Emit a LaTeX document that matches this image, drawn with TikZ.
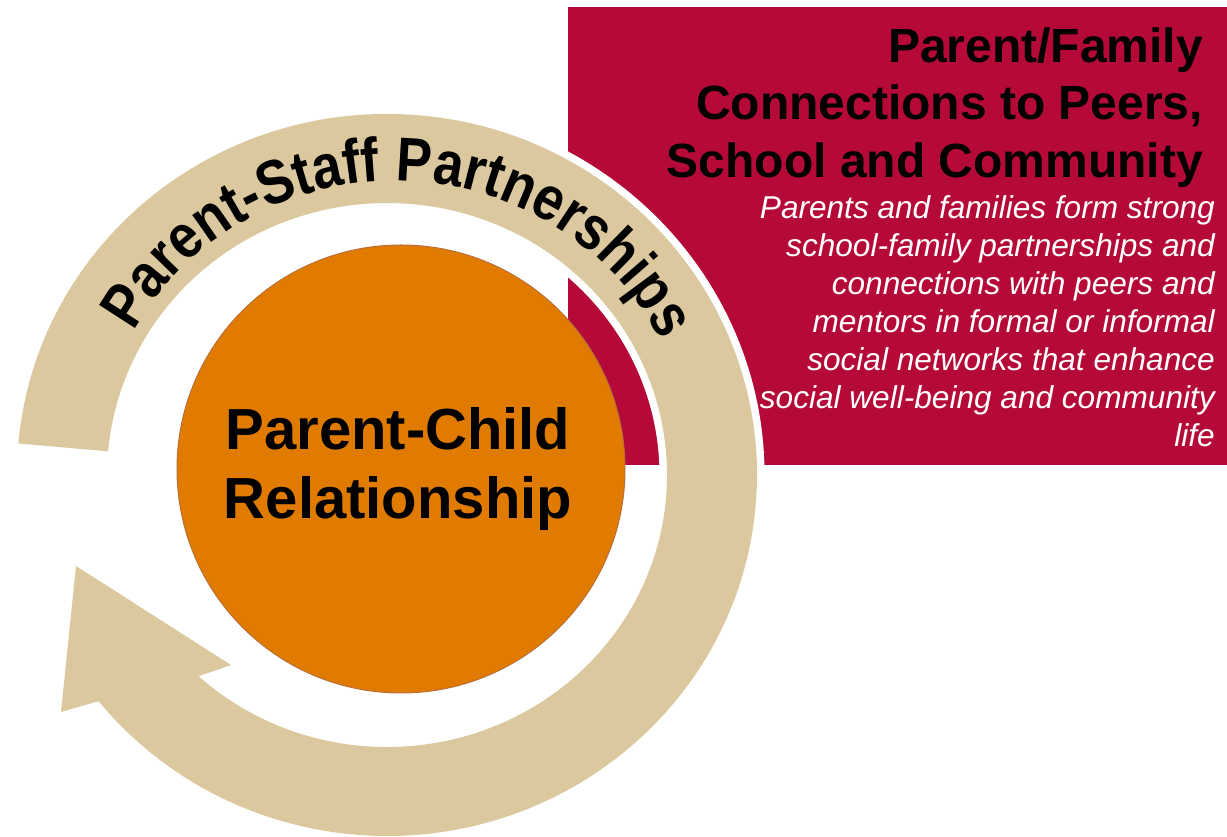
\documentclass[tikz,border=0pt]{standalone}
\usepackage{fontspec}
\setmainfont{Liberation Sans}
\newfontfamily\arcfont[FakeStretch=0.86]{Liberation Sans}
\usetikzlibrary{decorations.text}
\definecolor{boxred}{HTML}{B50A38}
\definecolor{ringtan}{HTML}{DBC89F}
\definecolor{coreorange}{HTML}{E07B00}
\definecolor{coreedge}{HTML}{B8703A}
\begin{document}
\begin{tikzpicture}[x=1pt,y=1pt,
  corestyle/.style={circle,minimum size=448pt,inner sep=0pt,fill=coreorange,draw=coreedge,line width=1pt},
  coretext/.style={anchor=base,inner sep=0pt,text=black,font=\bfseries\fontsize{58}{69}\selectfont},
  titletext/.style={anchor=base east,inner sep=0pt,text=black,font=\bfseries\fontsize{48}{57}\selectfont},
  bodytext/.style={anchor=base east,inner sep=0pt,text=white,font=\itshape\fontsize{31.6}{38}\selectfont}]
\useasboundingbox (0,0) rectangle (1227,837);
% red box
\fill[boxred] (568,372) rectangle (1227,830);
% central circle
\node[corestyle] (core) at (401,368) {};
% ring arrow with white outline
\coordinate (outerstart) at (18.4,393.5);
\coordinate (baseleft) at (61,125);
\coordinate (tip) at (76,271);
\coordinate (baseright) at (231,172);
\coordinate (innerend) at (198.6,160.8);
\path[preaction={draw=white,line width=15pt,line join=round},fill=ringtan]
  (outerstart) arc[start angle=175,end angle=-141.2,x radius=370,y radius=361]
  -- (baseleft) -- (tip) -- (baseright) -- (innerend)
  arc[start angle=-132.3,end angle=175,x radius=280,y radius=272] -- cycle;
% curved label
\coordinate (arcstart) at (116.6,469.4);
\path[decorate,decoration={text along path,text align=center,
  text={|\arcfont\bfseries\fontsize{62}{62}\selectfont|Parent-Staff Partnerships}}]
  (arcstart) arc[start angle=159,end angle=19,x radius=298,y radius=291];
% core text
\node[coretext] (pc1) at (398,387) {Parent-Child};
\node[coretext] (pc2) at (398,318) {Relationship};
% title
\node[titletext] (t1) at (1203,774) {Parent/Family};
\node[titletext] (t2) at (1203,717) {Connections to Peers,};
\node[titletext] (t3) at (1203,659) {School and Community};
% body
\node[bodytext] (b1) at (1215,618) {Parents and families form strong};
\node[bodytext] (b2) at (1215,580) {school-family partnerships and};
\node[bodytext] (b3) at (1215,542) {connections with peers and};
\node[bodytext] (b4) at (1215,504) {mentors in formal or informal};
\node[bodytext] (b5) at (1215,466) {social networks that enhance};
\node[bodytext] (b6) at (1215,428) {social well-being and community};
\node[bodytext] (b7) at (1215,390) {life};
\end{tikzpicture}
\end{document}
